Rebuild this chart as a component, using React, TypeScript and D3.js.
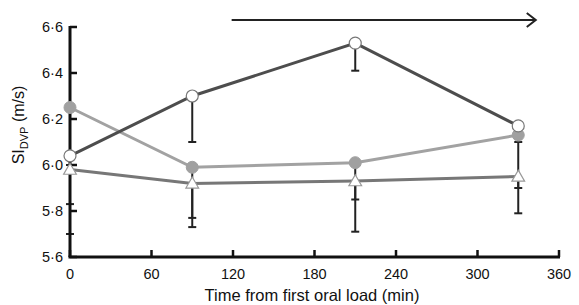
import { useEffect, useRef } from "react";
import * as d3 from "d3";

// time points (min)
const times = [0, 90, 210, 330];

// open circles
const openMean = [6.04, 6.3, 6.53, 6.17];
const openLow = [6.0, 6.1, 6.41, 6.1];
// filled circles
const filledMean = [6.25, 5.99, 6.01, 6.13];
const filledLow = [5.83, 5.77, 5.85, 5.9];
// open triangles
const triMean = [5.98, 5.92, 5.93, 5.95];
const triLow = [5.7, 5.73, 5.71, 5.79];

const xTicks = [0, 60, 120, 180, 240, 300, 360];
const yTicks = [5.6, 5.8, 6.0, 6.2, 6.4, 6.6];
const arrowRange = [119, 337];

const FONT = "'Liberation Sans', Arial, sans-serif";

export default function App() {
  const svgRef = useRef<SVGSVGElement>(null);

  useEffect(() => {
    const svg = d3.select(svgRef.current);
    svg.selectAll("*").remove();

    const x = d3.scaleLinear().domain([0, 360]).range([70, 559]);
    const y = d3.scaleLinear().domain([5.6, 6.6]).range([257, 27]);

    const series = [
      { mean: triMean, low: triLow, color: "#777", kind: "tri" },
      { mean: filledMean, low: filledLow, color: "#a2a2a2", kind: "filled" },
      { mean: openMean, low: openLow, color: "#4d4d4d", kind: "open" },
    ];

    const line = d3
      .line<number>()
      .x((_, i) => x(times[i]))
      .y((d) => y(d));

    // lines
    series.forEach((s) => {
      svg.append("path")
        .datum(s.mean)
        .attr("fill", "none")
        .attr("stroke", s.color)
        .attr("stroke-width", 3)
        .attr("d", line);
    });

    // error bars
    series.forEach((s) => {
      s.mean.forEach((m, i) => {
        const cx = x(times[i]);
        svg.append("line")
          .attr("x1", cx).attr("x2", cx)
          .attr("y1", y(m)).attr("y2", y(s.low[i]))
          .attr("stroke", "#222").attr("stroke-width", 2);
        svg.append("line")
          .attr("x1", cx - 4).attr("x2", cx + 4)
          .attr("y1", y(s.low[i])).attr("y2", y(s.low[i]))
          .attr("stroke", "#222").attr("stroke-width", 2);
      });
    });

    // axes
    const axisY = svg.append("g").attr("transform", "translate(70,0)");
    axisY.append("line")
      .attr("x1", 0).attr("x2", 0)
      .attr("y1", y(6.6) - 1).attr("y2", y(5.6))
      .attr("stroke", "#111").attr("stroke-width", 3);
    yTicks.forEach((t) => {
      axisY.append("line")
        .attr("x1", 0).attr("x2", 7)
        .attr("y1", y(t)).attr("y2", y(t))
        .attr("stroke", "#111").attr("stroke-width", 2.5);
      axisY.append("text")
        .attr("x", -7).attr("y", y(t) + 5)
        .attr("text-anchor", "end")
        .attr("font-family", FONT).attr("font-size", 14.5)
        .attr("fill", "#111")
        .text(t.toFixed(1).replace(".", "·"));
    });

    const axisX = svg.append("g").attr("transform", "translate(0,257)");
    axisX.append("line")
      .attr("x1", x(0) - 1.5).attr("x2", x(360) + 1)
      .attr("y1", 0).attr("y2", 0)
      .attr("stroke", "#111").attr("stroke-width", 3);
    xTicks.forEach((t) => {
      axisX.append("line")
        .attr("x1", x(t)).attr("x2", x(t))
        .attr("y1", 0).attr("y2", -7)
        .attr("stroke", "#111").attr("stroke-width", 2.5);
      axisX.append("text")
        .attr("x", x(t)).attr("y", 22)
        .attr("text-anchor", "middle")
        .attr("font-family", FONT).attr("font-size", 14.5)
        .attr("fill", "#111")
        .text(t);
    });

    // markers
    series.forEach((s) => {
      s.mean.forEach((m, i) => {
        const cx = x(times[i]);
        const cy = y(m);
        if (s.kind === "tri") {
          svg.append("path")
            .attr("d", d3.symbol().type(d3.symbolTriangle).size(70)())
            .attr("transform", `translate(${cx},${cy + 1})`)
            .attr("fill", "#fff").attr("stroke", "#999").attr("stroke-width", 1.2);
        } else if (s.kind === "filled") {
          svg.append("circle")
            .attr("cx", cx).attr("cy", cy).attr("r", 6)
            .attr("fill", "#a0a0a0").attr("stroke", "#a0a0a0");
        } else {
          svg.append("circle")
            .attr("cx", cx).attr("cy", cy).attr("r", 6)
            .attr("fill", "#fff").attr("stroke", "#777").attr("stroke-width", 1.2);
        }
      });
    });

    // arrow
    const ay = 20;
    svg.append("line")
      .attr("x1", x(arrowRange[0])).attr("x2", x(arrowRange[1]) + 7)
      .attr("y1", ay).attr("y2", ay)
      .attr("stroke", "#222").attr("stroke-width", 2);
    svg.append("path")
      .attr("d", `M${x(arrowRange[1]) - 1},${ay - 7} L${x(arrowRange[1]) + 8},${ay} L${x(arrowRange[1]) - 1},${ay + 7}`)
      .attr("fill", "none").attr("stroke", "#222").attr("stroke-width", 2);

    // axis titles
    svg.append("text")
      .attr("x", 312).attr("y", 301)
      .attr("text-anchor", "middle")
      .attr("font-family", FONT).attr("font-size", 16.5)
      .attr("fill", "#111")
      .text("Time from first oral load (min)");

    const yl = svg.append("text")
      .attr("transform", "translate(24,125) rotate(-90)")
      .attr("text-anchor", "middle")
      .attr("font-family", FONT).attr("font-size", 16)
      .attr("fill", "#111");
    yl.append("tspan").text("SI");
    yl.append("tspan").attr("font-size", 11).attr("dy", 4).text("DVP");
    yl.append("tspan").attr("dy", -4).text(" (m/s)");
  }, []);

  return (
    <svg
      ref={svgRef}
      width={579}
      height={305}
      style={{ position: "absolute", left: 0, top: 0, background: "#fff" }}
    />
  );
}
